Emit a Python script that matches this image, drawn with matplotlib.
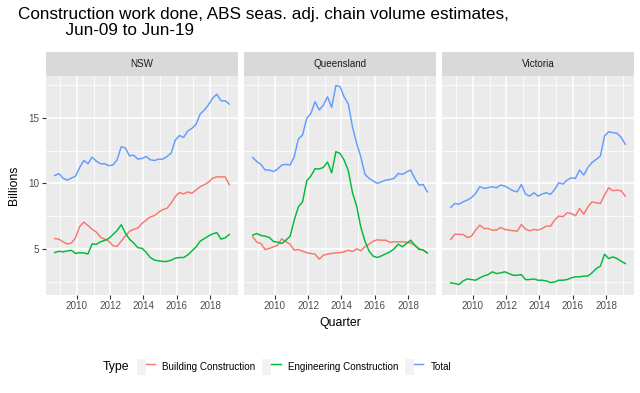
import matplotlib
matplotlib.use("Agg")
import matplotlib.pyplot as plt
import matplotlib.dates as mdates
from matplotlib.patches import Rectangle
from matplotlib.lines import Line2D
from matplotlib.legend_handler import HandlerTuple
import pandas as pd

plt.rcParams['font.family'] = ['Liberation Sans', 'DejaVu Sans']

# quarterly, Sep-08 .. Mar-19
quarters = pd.date_range("2008-09-01", periods=43, freq="3MS")

states = ["NSW", "Queensland", "Victoria"]
types = ["Building Construction", "Engineering Construction", "Total"]

nsw_building = [5.8, 5.75, 5.55, 5.38, 5.45, 5.85, 6.7, 7.05, 6.8, 6.5, 6.3, 5.9, 5.75, 5.6, 5.25,
                5.2, 5.6, 6.0, 6.35, 6.5, 6.6, 6.95, 7.2, 7.45, 7.55, 7.8, 8.0, 8.1, 8.5, 9.0,
                9.3, 9.2, 9.35, 9.25, 9.5, 9.75, 9.9, 10.1, 10.4, 10.5, 10.5, 10.5, 9.9]
nsw_engineering = [4.73, 4.83, 4.78, 4.85, 4.9, 4.66, 4.72, 4.7, 4.62, 5.4, 5.35, 5.55, 5.65, 5.8, 6.1,
                   6.4, 6.85, 6.2, 5.75, 5.45, 5.1, 5.05, 4.75, 4.35, 4.15, 4.1, 4.05, 4.05, 4.15, 4.3,
                   4.35, 4.35, 4.55, 4.85, 5.15, 5.6, 5.8, 6.0, 6.15, 6.25, 5.75, 5.85, 6.1]
nsw_total = [10.6, 10.75, 10.4, 10.25, 10.4, 10.55, 11.2, 11.75, 11.5, 12.0, 11.7, 11.5, 11.5, 11.35, 11.4,
             11.8, 12.8, 12.7, 12.1, 12.15, 11.85, 11.9, 12.05, 11.8, 11.75, 11.85, 11.85, 12.05, 12.3, 13.3,
             13.65, 13.5, 14.0, 14.2, 14.5, 15.3, 15.6, 16.0, 16.5, 16.8, 16.3, 16.3, 16.05]

qld_building = [5.93, 5.52, 5.42, 4.96, 5.04, 5.17, 5.29, 5.78, 5.55, 5.37, 4.91, 4.96, 4.83, 4.71, 4.66,
                4.61, 4.22, 4.53, 4.61, 4.66, 4.71, 4.73, 4.78, 4.91, 4.81, 5.01, 4.86, 5.17, 5.37, 5.6,
                5.7, 5.67, 5.67, 5.5, 5.55, 5.55, 5.55, 5.52, 5.45, 5.27, 4.96, 4.94, 4.68]
qld_engineering = [6.06, 6.18, 6.03, 5.98, 5.88, 5.57, 5.52, 5.42, 5.67, 5.98, 7.2, 8.22, 8.6, 10.2, 10.56,
                   11.12, 11.1, 11.22, 11.63, 10.81, 12.42, 12.29, 11.78, 10.97, 9.29, 8.27, 6.69, 5.6, 4.83, 4.45,
                   4.35, 4.48, 4.63, 4.78, 5.01, 5.37, 5.17, 5.42, 5.67, 5.29, 5.01, 4.91, 4.71]
qld_total = [11.98, 11.65, 11.45, 11.02, 11.02, 10.9, 11.1, 11.4, 11.45, 11.4, 12.04, 13.38, 13.7, 14.96, 15.34,
             16.23, 15.6, 15.98, 16.6, 15.8, 17.46, 17.38, 16.6, 16.05, 14.3, 13.05, 12.04, 10.7, 10.38, 10.18,
             10.0, 10.13, 10.25, 10.3, 10.38, 10.76, 10.69, 10.87, 11.02, 10.38, 9.87, 9.92, 9.36]

vic_building = [5.73, 6.13, 6.11, 6.11, 5.88, 5.98, 6.44, 6.82, 6.56, 6.56, 6.44, 6.44, 6.64, 6.49, 6.44,
                6.39, 6.36, 6.87, 6.51, 6.39, 6.49, 6.44, 6.56, 6.74, 6.74, 7.2, 7.51, 7.46, 7.76, 7.71,
                7.53, 8.09, 7.66, 8.22, 8.6, 8.52, 8.47, 9.11, 9.67, 9.44, 9.49, 9.44, 9.03]
vic_engineering = [2.42, 2.37, 2.29, 2.57, 2.72, 2.67, 2.62, 2.8, 2.95, 3.05, 3.26, 3.13, 3.18, 3.26, 3.13,
                   3.0, 3.0, 3.05, 2.67, 2.67, 2.72, 2.62, 2.62, 2.57, 2.44, 2.49, 2.62, 2.62, 2.67, 2.8,
                   2.88, 2.88, 2.93, 2.95, 3.18, 3.51, 3.69, 4.61, 4.27, 4.4, 4.27, 4.07, 3.89]
vic_total = [8.17, 8.47, 8.42, 8.6, 8.73, 8.91, 9.24, 9.75, 9.62, 9.67, 9.75, 9.67, 9.87, 9.8, 9.62,
             9.44, 9.36, 9.92, 9.19, 9.03, 9.29, 9.03, 9.19, 9.29, 9.16, 9.54, 10.05, 9.95, 10.25, 10.43,
             10.38, 11.02, 10.64, 11.22, 11.6, 11.83, 12.09, 13.61, 13.94, 13.87, 13.82, 13.51, 12.98]

data = {
    "NSW": [nsw_building, nsw_engineering, nsw_total],
    "Queensland": [qld_building, qld_engineering, qld_total],
    "Victoria": [vic_building, vic_engineering, vic_total],
}
colors = ["#F8766D", "#00BA38", "#619CFF"]

W, H = 640, 393
fig = plt.figure(figsize=(6.4, 3.93), dpi=100)

# shared limits, ggplot style 5% expansion
allv = [v for s in states for series in data[s] for v in series]
lo, hi = min(allv), max(allv)
ylim = (lo - 0.05 * (hi - lo), hi + 0.05 * (hi - lo))
x0, x1 = mdates.date2num(quarters[0]), mdates.date2num(quarters[-1])
xlim = (x0 - 0.05 * (x1 - x0), x1 + 0.05 * (x1 - x0))

panel_left = [46, 244, 442]
panel_w = 192
panel_top, panel_bot = 75.6, 294.5
strip_top = 52
small = 7.1
big = 8.8

for k, state in enumerate(states):
    ax = fig.add_axes([panel_left[k] / W, 1 - panel_bot / H, panel_w / W, (panel_bot - panel_top) / H])
    ax.set_facecolor("#EBEBEB")
    for s in ax.spines.values():
        s.set_visible(False)
    for series, c in zip(data[state], colors):
        ax.plot(quarters, series, color=c, lw=1.05)
    ax.set_xlim(xlim)
    ax.set_ylim(ylim)
    ax.xaxis.set_major_locator(mdates.YearLocator(2))
    ax.xaxis.set_minor_locator(mdates.YearLocator(1))
    ax.xaxis.set_major_formatter(mdates.DateFormatter("%Y"))
    ax.set_yticks([5, 10, 15])
    ax.set_yticks([2.5, 7.5, 12.5, 17.5], minor=True)
    ax.grid(which="major", color="white", lw=1.1)
    ax.grid(which="minor", color="white", lw=0.55)
    ax.set_axisbelow(True)
    ax.tick_params(which="major", length=2.75, width=0.8, color="#333333",
                   labelsize=small, labelcolor="#4D4D4D", pad=2)
    ax.tick_params(which="minor", length=0)
    if k > 0:
        ax.tick_params(axis="y", which="major", length=0, labelleft=False)

    sax = fig.add_axes([panel_left[k] / W, 1 - panel_top / H, panel_w / W, (panel_top - strip_top) / H])
    sax.set_facecolor("#D9D9D9")
    sax.set_xticks([])
    sax.set_yticks([])
    for s in sax.spines.values():
        s.set_visible(False)
    sax.text(0.5, 0.5, state, ha="center", va="center", fontsize=small, color="#1A1A1A",
             transform=sax.transAxes)

fig.text(18 / W, 1 - 7 / H,
         "Construction work done, ABS seas. adj. chain volume estimates,\n          Jun-09 to Jun-19",
         ha="left", va="top", fontsize=12.3, linespacing=1.12)
fig.text(14 / W, 1 - 185 / H, "Billions", rotation=90, ha="center", va="center", fontsize=big)
fig.text(340 / W, 1 - 323 / H, "Quarter", ha="center", va="center", fontsize=big)

# legend
fig.text(103 / W, 1 - 367 / H, "Type", ha="left", va="center", fontsize=big)
handles = [(Rectangle((0, 0), 1, 1, facecolor="#F2F2F2", edgecolor="none"),
            Line2D([], [], color=c, lw=1.05)) for c in colors]
fig.legend(handles, types, loc="center", bbox_to_anchor=(294 / W, 1 - 367 / H), ncol=3,
           frameon=False, fontsize=small, handlelength=1.85, handleheight=2.2,
           handletextpad=0.72, columnspacing=0.72, borderaxespad=0, borderpad=0,
           handler_map={tuple: HandlerTuple(ndivide=None, pad=0)})

fig.savefig("out.png", dpi=100)
